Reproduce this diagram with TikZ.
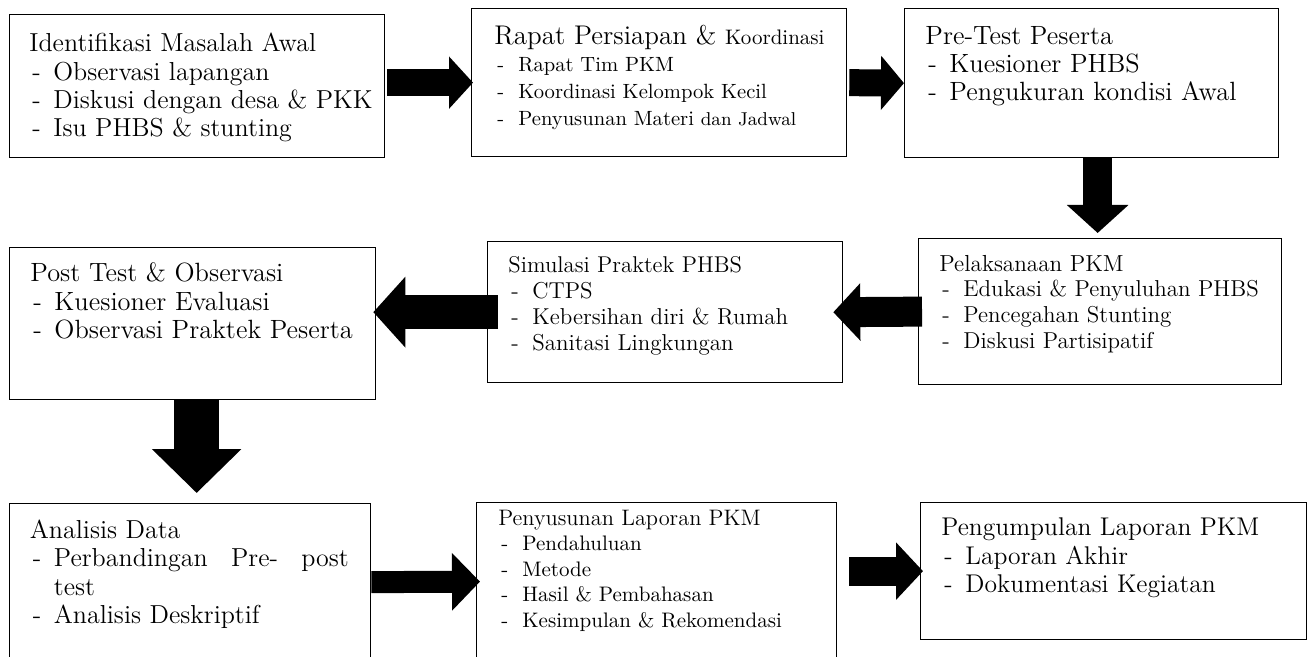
\documentclass[tikz,border=0pt]{standalone}
\usetikzlibrary{arrows.meta, positioning}

\newcommand{\itm}{\hspace*{1.5pt}\makebox[10.5pt][l]{-}}

\begin{document}
\begin{tikzpicture}[%
    x=0.5pt,
    y=-0.5pt,
    box/.style={draw, line width=0.65pt, anchor=north west, inner sep=0pt},
    txt/.style={anchor=north west, inner sep=0pt, align=left},
    fat/.style n args={3}{line width=#1, -{Triangle[length=#2, width=#3]}}
  ]
  \clip (0,0) rectangle (1309,657);

  % boxes
  \node[box, minimum width=187.5pt, minimum height=71.5pt] at (9,14) (ident) {};
  \node[box, minimum width=187.5pt, minimum height=74pt] at (471,8) (rapat) {};
  \node[box, minimum width=187pt, minimum height=74.5pt] at (904,8) (pretest) {};
  \node[box, minimum width=181.5pt, minimum height=73pt] at (918,238) (pelaks) {};
  \node[box, minimum width=177.5pt, minimum height=70.5pt] at (487,241) (simul) {};
  \node[box, minimum width=183pt, minimum height=76pt] at (9,247) (posttest) {};
  \node[box, minimum width=180.5pt, minimum height=78.5pt] at (9,503) (analisis) {};
  \node[box, minimum width=180pt, minimum height=79pt] at (476,502) (penyus) {};
  \node[box, minimum width=193pt, minimum height=68.5pt] at (920,502) (pengump) {};

  % texts
  \node[txt, below right=9.5pt and 10pt of ident.north west, font=\fontsize{13}{14.1}\selectfont] (identT)
    {Identifikasi Masalah Awal\\ \itm Observasi lapangan\\ \itm Diskusi dengan desa \& PKK\\ \itm Isu PHBS \& stunting};
  \node[txt, below right=8.4pt and 11.5pt of rapat.north west, font=\fontsize{10.3}{13.5}\selectfont] (rapatT)
    {{\fontsize{13.5}{13.5}\selectfont Rapat Persiapan \& }{\fontsize{10.5}{13.5}\selectfont Koordinasi}\\
     \itm Rapat Tim PKM\\ \itm Koordinasi Kelompok Kecil\\ \itm Penyusunan Materi {\fontsize{9.3}{13.5}\selectfont dan Jadwal}};
  \node[txt, below right=9pt and 10.5pt of pretest.north west, font=\fontsize{13.2}{14}\selectfont] (pretestT)
    {Pre-Test Peserta\\ \itm Kuesioner PHBS\\ \itm Pengukuran kondisi Awal};
  \node[txt, below right=8.25pt and 10.5pt of pelaks.north west, font=\fontsize{11.5}{12.85}\selectfont] (pelaksT)
    {{\fontsize{11.6}{12.85}\selectfont Pelaksanaan PKM}\\ \itm Edukasi \& Penyuluhan PHBS\\ \itm Pencegahan Stunting\\ \itm Diskusi Partisipatif};
  \node[txt, below right=7.7pt and 10.5pt of simul.north west, font=\fontsize{11.5}{13}\selectfont] (simulT)
    {{\fontsize{11.4}{13}\selectfont Simulasi Praktek PHBS}\\ \itm CTPS\\ \itm Kebersihan diri \& Rumah\\ \itm Sanitasi Lingkungan};
  \node[txt, below right=7.8pt and 10.5pt of posttest.north west, font=\fontsize{13.2}{14.25}\selectfont] (posttestT)
    {Post Test \& Observasi\\ \itm Kuesioner Evaluasi\\ \itm Observasi Praktek Peserta};
  \node[txt, below right=8.3pt and 10.25pt of analisis.north west, font=\fontsize{13}{14.15}\selectfont] (analisisT)
    {Analisis Data\\ \itm \makebox[147.5pt][l]{Perbandingan\hfill Pre-\hfill post}\\
     \hspace*{12pt}test\\ \itm Analisis Deskriptif};
  \node[txt, below right=3.7pt and 11pt of penyus.north west, font=\fontsize{10.5}{12.75}\selectfont] (penyusT)
    {{\fontsize{11.2}{12.75}\selectfont Penyusunan Laporan PKM}\\ \itm Pendahuluan\\ \itm Metode\\ \itm Hasil \& Pembahasan\\ \itm Kesimpulan \& Rekomendasi};
  \node[txt, below right=7.9pt and 10.5pt of pengump.north west, font=\fontsize{12.8}{14.25}\selectfont] (pengumpT)
    {Pengumpulan Laporan PKM\\ \itm Laporan Akhir\\ \itm Dokumentasi Kegiatan};

  % block arrows
  \draw[fat={13.5pt}{12pt}{25.5pt}, shorten <=1pt, shorten >=-1pt] (ident.east |- rapat.west) -- (rapat.west);
  \draw[fat={13.5pt}{11.5pt}{26.5pt}, shorten <=1pt] (rapat.east) -- (pretest.west);
  \draw[fat={14.5pt}{14pt}{30pt}, shorten >=2.5pt] ([xshift=3pt]pretest.south) -- ([xshift=3pt]pretest.south |- pelaks.north);
  \draw[fat={15pt}{13.5pt}{28pt}, shorten <=-2pt, shorten >=-5pt] (pelaks.west) -- (simul.east);
  \draw[fat={17pt}{16pt}{34.5pt}, shorten <=-5.5pt, shorten >=-1.5pt] (simul.west) -- (posttest.east |- simul.west);
  \draw[fat={22.5pt}{22pt}{43.5pt}, shorten >=5pt] ([xshift=2pt]posttest.south) -- ([xshift=2pt]posttest.south |- analisis.north);
  \draw[fat={11pt}{14pt}{28pt}, shorten >=-2pt] (analisis.east) -- (penyus.west);
  \draw[fat={14.5pt}{13.5pt}{28pt}, shorten <=6pt, shorten >=-1.5pt] (penyus.east |- pengump.west) -- (pengump.west);
\end{tikzpicture}
\end{document}
